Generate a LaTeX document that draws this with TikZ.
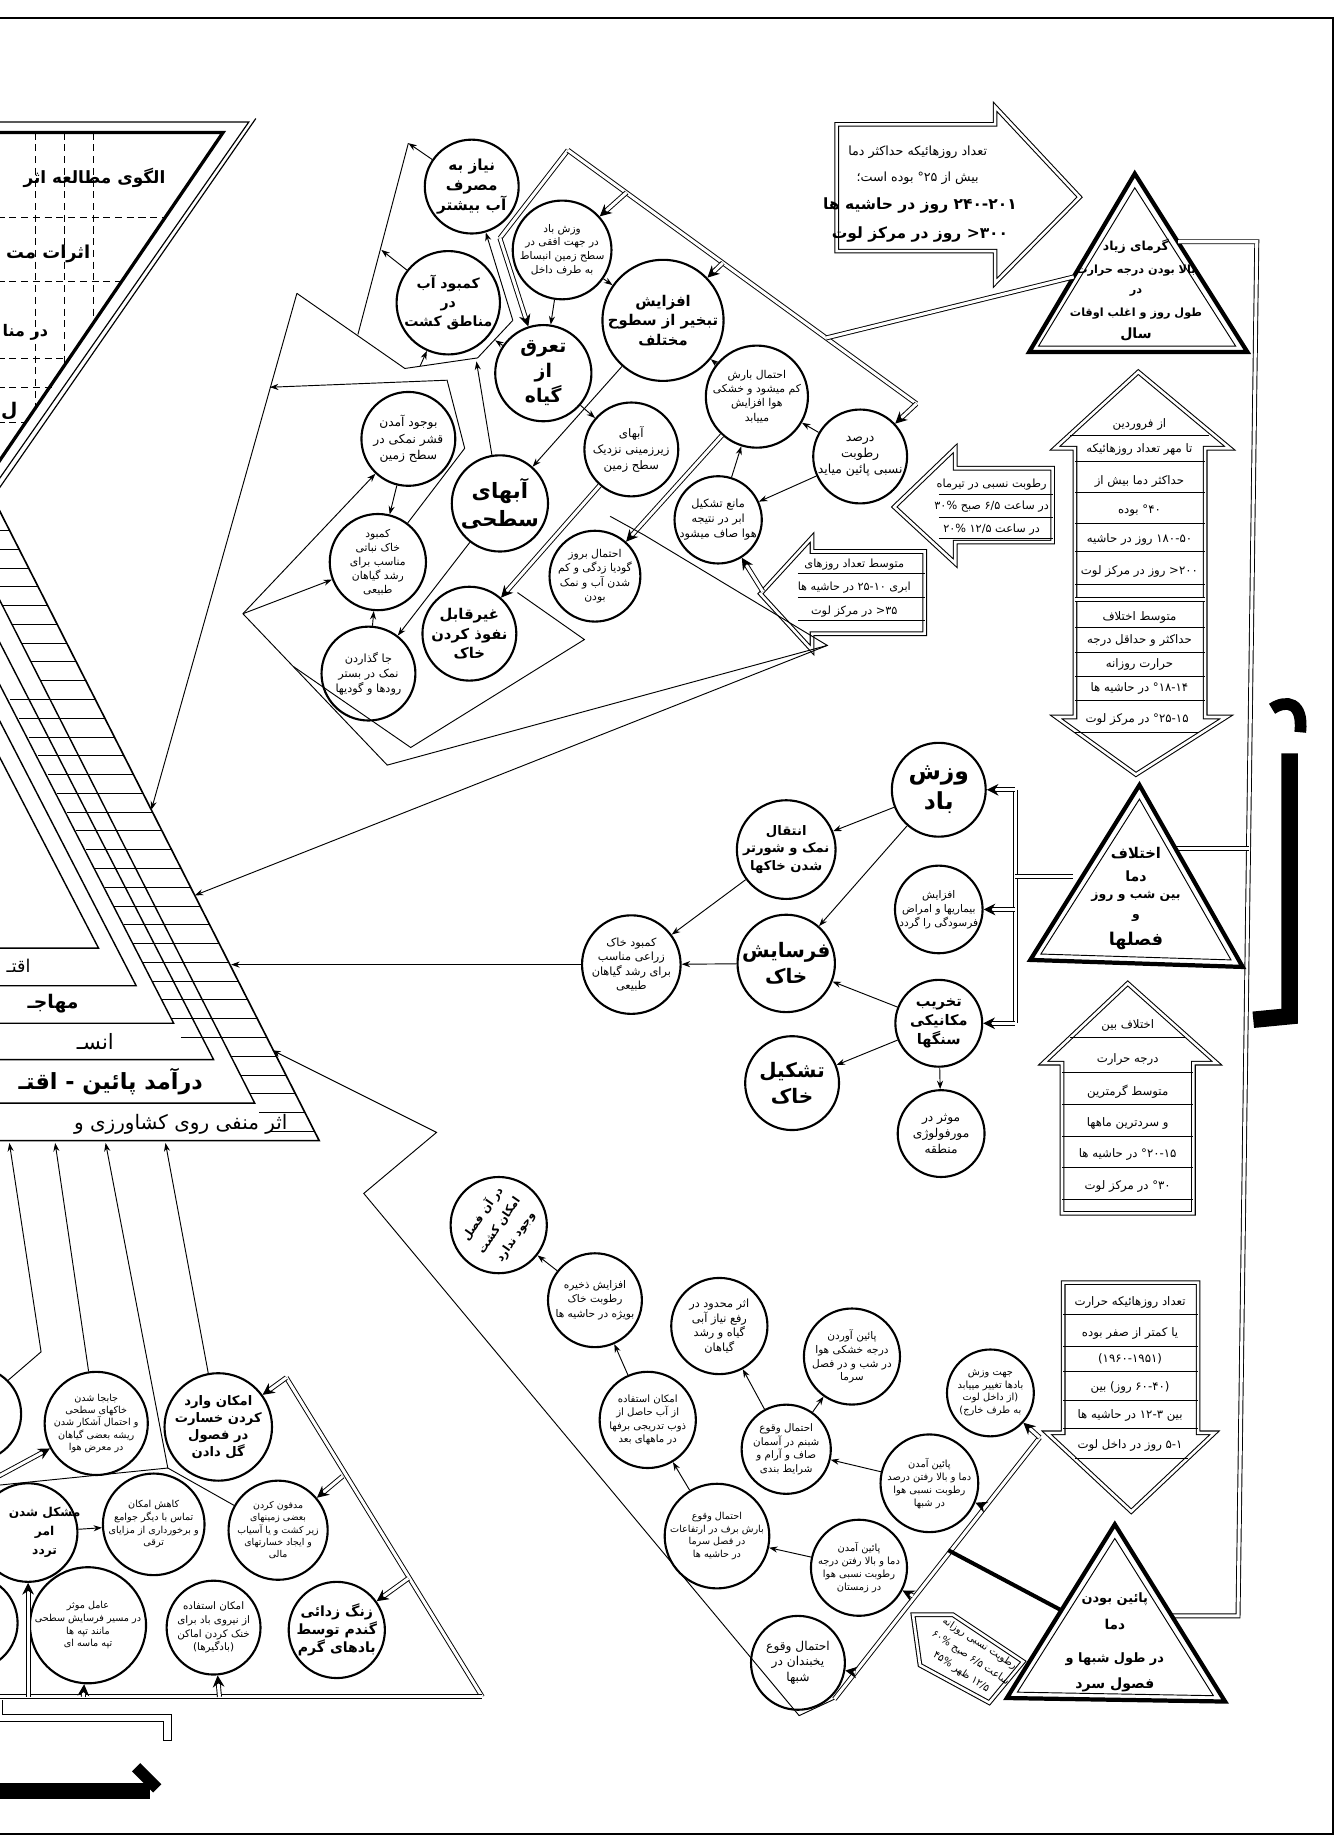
\documentclass[tikz,border=0pt]{standalone}
\usepackage{fontspec}
\newfontfamily\arabicfont[Script=Arabic]{DejaVu Sans}
\TeXXeTstate=1
\usetikzlibrary{arrows.meta,calc}
\newcommand{\fa}[1]{\beginR #1\endR}
\newcommand{\LN}[1]{\beginL #1\endL{}}
\tikzset{
  circ/.style={circle,draw,line width=0.9pt,inner sep=0pt,align=center,minimum size=40pt,font=\arabicfont\fontsize{4.8}{6.2}\selectfont},
  fs/.style 2 args={font=\arabicfont\fontsize{#1}{#2}\selectfont},
  fb/.style 2 args={font=\arabicfont\bfseries\fontsize{#1}{#2}\selectfont},
  arr/.style={-{Stealth[length=3.6pt,width=2.6pt]},line width=0.4pt},
  dl/.style={double,double distance=1.3pt,line width=0.4pt},
  darr/.style={double,double distance=1.3pt,line width=0.4pt,-{Stealth[length=5pt,width=5pt]}},
  shp/.style={double,double distance=1.1pt,line width=0.45pt},
  txt/.style={align=center,inner sep=0pt,font=\arabicfont\fontsize{5}{6}\selectfont},
  hatch/.style={line width=0.35pt},
  heavy/.style={line width=1.7pt},
  grid/.style={dash pattern=on 3pt off 2pt,line width=0.35pt},
}
\begin{document}
\begin{tikzpicture}[x=0.5pt,y=-0.5pt]
\useasboundingbox (0,0) rectangle (1140,1568);
\clip (0,0) rectangle (1140,1568);
% frame
\draw[line width=0.8pt] (-5,15) -- (1136,15) -- (1136,1563) -- (-5,1563);

% ---------- title wedge ----------
\draw[line width=0.5pt] (-2,104) -- (212,104) -- (-2,410);
\draw[line width=0.5pt] (218,101) -- (-2,418);
\draw[line width=1.4pt] (-2,113) -- (190,113) -- (-2,395);
\foreach \y/\x in {185/141,240/104,305/60,330/44,360/23} \draw[grid] (-2,\y) -- (\x,\y);
\foreach \x/\y in {30/350,55/313,80/276} \draw[grid] (\x,113) -- (\x,\y);
\node[anchor=east,fb={7.2}{9}] at (148,152) {\fa{الگوی مطالعه اثر}};
\node[anchor=east,fb={7.6}{10}] at (84,216) {\fa{اثرات مت}};
\node[anchor=east,fb={6.8}{9}] at (48,283) {\fa{در منا}};
\node[anchor=east,fb={8}{10}] at (22,350) {\fa{ل}};

% ---------- big pyramid ----------
\draw[line width=0.7pt] (-2,432) -- (272,972) -- (-2,972);
\draw[line width=0.6pt] (-2,508) -- (217,940) -- (-2,940);
\draw[line width=0.6pt] (-2,544) -- (182,903) -- (-2,903);
\draw[line width=0.6pt] (-2,580) -- (148,872) -- (-2,872);
\draw[line width=0.6pt] (-2,611) -- (116,840) -- (-2,840);
\draw[line width=0.6pt] (-2,642) -- (84,808) -- (-2,808);
\foreach \y in {452,468,...,964} \draw[hatch] ({max(0,(\y-512)*0.507)},\y) -- ({(\y-436)*0.507},\y);
\foreach \y in {596,612,...,892} \draw[hatch] ({max(0,(\y-580)*0.507)},\y) -- ({(\y-512)*0.507},\y);
\node[anchor=east,fs={8.5}{10}] at (252,958) {\fa{اثر منفی روی کشاورزی و}};
\node[anchor=east,fb={9.5}{11}] at (180,922) {\fa{درآمد پائین - اقتـ}};
\node[anchor=east,fs={9}{11}] at (104,888) {\fa{انسـ}};
\node[anchor=east,fb={8}{10}] at (74,855) {\fa{مهاجـ}};
\node[anchor=east,fs={7.5}{9}] at (33,823) {\fa{اقتـ}};

% ---------- top right arrow + triangle ----------
\draw[shp] (713,106) -- (848,106) -- (848,91) -- (920,168) -- (848,241) -- (848,214) -- (713,214) -- cycle;
\node[txt,fs={5.4}{6.4}] at (782,130) {\fa{تعداد روزهائیکه حداکثر دما}};
\node[txt,fs={5.4}{6.4}] at (782,152) {\fa{بیش از \LN{°۲۵} بوده است؛}};
\node[txt,fb={6.6}{8}] at (784,175) {\fa{\LN{۲۴۰-۲۰۱} روز در حاشیه ها}};
\node[txt,fb={6.6}{8}] at (784,200) {\fa{\LN{۳۰۰<} روز در مرکز لوت}};

\draw[line width=1.8pt] (967,148) -- (1063,300) -- (877,300) -- cycle;
\draw[line width=0.4pt] (967,160) -- (1053,295) -- (885,295) -- cycle;
\node[txt,fb={5.3}{6.5}] at (968,210) {\fa{گرمای زیاد}};
\node[txt,fb={4.8}{6}] at (968,231) {\fa{بالا بودن درجه حرارت}};
\node[txt,fb={4.8}{6}] at (968,249) {\fa{در}};
\node[txt,fb={4.8}{6}] at (968,267) {\fa{طول روز و اغلب اوقات}};
\node[txt,fb={6}{7.5}] at (968,285) {\fa{سال}};

% spine
\draw[dl] (1004,206) -- (1071,206) -- (1055,1377) -- (998,1377);
\draw[dl] (1002,723) -- (1064,723);

% up-down arrow
\draw[shp] (970,317) -- (1048,382) -- (1027,382) -- (1027,611) -- (1045,611) -- (968,660) -- (900,611) -- (916,611) -- (916,382) -- (899,382) -- cycle;
\draw[shp] (916,511) -- (1027,511);
\draw[hatch] (912,371) -- (1030,371);
\foreach \y in {393,420,446,470,498,535,556,576,597} \draw[hatch] (916,\y) -- (1027,\y);
\draw[hatch] (915,624) -- (1022,624);
\node[txt,fs={5}{6}] at (971,362) {\fa{از فروردین}};
\node[txt,fs={5}{6}] at (971,383) {\fa{تا مهر تعداد روزهائیکه}};
\node[txt,fs={5}{6}] at (971,410) {\fa{حداکثر دما بیش از}};
\node[txt,fs={5}{6}] at (971,435) {\fa{\LN{°۴۰} بوده}};
\node[txt,fs={5}{6}] at (971,460) {\fa{\LN{۱۸۰-۵۰} روز در حاشیه}};
\node[txt,fs={5}{6}] at (971,487) {\fa{\LN{۲۰۰<} روز در مرکز لوت}};
\node[txt,fs={5}{6}] at (971,526) {\fa{متوسط اختلاف}};
\node[txt,fs={5}{6}] at (971,546) {\fa{حداکثر و حداقل درجه}};
\node[txt,fs={5}{6}] at (971,566) {\fa{حرارت روزانه}};
\node[txt,fs={5}{6}] at (971,587) {\fa{\LN{°۱۸-۱۴} در حاشیه ها}};
\node[txt,fs={5}{6}] at (969,613) {\fa{\LN{°۲۵-۱۵} در مرکز لوت}};

% left arrows
\draw[shp] (897,399) -- (814,399) -- (814,382) -- (762,432) -- (814,480) -- (814,462) -- (897,462) -- cycle;
\foreach \y in {421,441,459} \draw[hatch] (800,\y) -- (897,\y);
\node[txt,fs={4.8}{5.8}] at (845,413) {\fa{رطوبت نسبی در تیرماه}};
\node[txt,fs={4.8}{5.8}] at (845,432) {\fa{در ساعت \LN{۶/۵} صبح \LN{۳۰\%}}};
\node[txt,fs={4.8}{5.8}] at (845,451) {\fa{در ساعت \LN{۱۲/۵} \LN{۲۰\%}}};

\draw[shp] (788,470) -- (692,470) -- (692,458) -- (648,506) -- (692,554) -- (692,540) -- (788,540) -- cycle;
\foreach \y in {489,509,529} \draw[hatch] (680,\y) -- (788,\y);
\node[txt,fs={4.8}{5.8}] at (728,481) {\fa{متوسط تعداد روزهای}};
\node[txt,fs={4.8}{5.8}] at (728,501) {\fa{ابری \LN{۲۵-۱۰} در حاشیه ها}};
\node[txt,fs={4.8}{5.8}] at (728,521) {\fa{\LN{۳۵<} در مرکز لوت}};

% triangle 2
\draw[line width=1.8pt] (971,669) -- (1059,824) -- (878,818) -- cycle;
\draw[line width=0.4pt] (971,681) -- (1049,818) -- (887,813) -- cycle;
\node[txt,fb={6.3}{8}] at (968,727) {\fa{اختلاف}};
\node[txt,fb={6}{7.5}] at (968,747) {\fa{دما}};
\node[txt,fb={5.3}{6.5}] at (968,764) {\fa{بین شب و روز}};
\node[txt,fb={5.3}{6.5}] at (968,782) {\fa{و}};
\node[txt,fb={7.5}{9}] at (968,802) {\fa{فصلها}};

% up arrow
\draw[shp] (961,838) -- (1037,906) -- (1017,906) -- (1017,1034) -- (905,1034) -- (905,906) -- (889,906) -- cycle;
\draw[hatch] (912,884) -- (1010,884);
\foreach \y in {914,941,968,995,1022} \draw[hatch] (905,\y) -- (1017,\y);
\node[txt,fs={5}{6}] at (961,874) {\fa{اختلاف بین}};
\node[txt,fs={5}{6}] at (961,903) {\fa{درجه حرارت}};
\node[txt,fs={5}{6}] at (961,930) {\fa{متوسط گرمترین}};
\node[txt,fs={5}{6}] at (961,957) {\fa{و سردترین ماهها}};
\node[txt,fs={5}{6}] at (961,984) {\fa{\LN{°۲۰-۱۵} در حاشیه ها}};
\node[txt,fs={5}{6}] at (961,1011) {\fa{\LN{°۳۰} در مرکز لوت}};

% down arrow
\draw[shp] (906,1093) -- (1021,1093) -- (1021,1221) -- (1035,1221) -- (964,1288) -- (892,1221) -- (906,1221) -- cycle;
\foreach \y in {1120,1147,1169,1193,1217} \draw[hatch] (906,\y) -- (1021,\y);
\draw[hatch] (916,1243) -- (1012,1243);
\node[txt,fs={5}{6}] at (963,1110) {\fa{تعداد روزهائیکه حرارت}};
\node[txt,fs={5}{6}] at (963,1136) {\fa{یا کمتر از صفر بوده}};
\node[txt,fs={5}{6}] at (963,1158) {\fa{(\LN{۱۹۶۰-۱۹۵۱})}};
\node[txt,fs={5}{6}] at (963,1182) {\fa{(\LN{۶۰-۴۰} روز) بین}};
\node[txt,fs={5}{6}] at (963,1206) {\fa{بین \LN{۱۲-۳} در حاشیه ها}};
\node[txt,fs={5}{6}] at (963,1232) {\fa{\LN{۵-۱} روز در داخل لوت}};

% triangle 3
\draw[line width=1.8pt] (950,1299) -- (1044,1450) -- (858,1447) -- cycle;
\draw[line width=0.4pt] (950,1311) -- (1034,1445) -- (867,1442) -- cycle;
\node[txt,fb={5.5}{7}] at (950,1363) {\fa{پائین بودن}};
\node[txt,fb={5.8}{7}] at (950,1384) {\fa{دما}};
\node[txt,fb={5.5}{7}] at (950,1414) {\fa{در طول شبها و}};
\node[txt,fb={6}{7.5}] at (950,1436) {\fa{فصول سرد}};

% tilted arrow
\draw[shp] (778,1376) -- (812,1376) -- (872,1416) -- (843,1451) -- (784,1419) -- cycle;
\node[txt,fs={4.3}{7.2},rotate=-33] at (827,1413) {\fa{رطوبت نسبی روزانه}\\\fa{ساعت \LN{۶/۵} صبح \LN{۶۰\%}}\\\fa{\LN{۱۲/۵} ظهر \LN{۴۵\%}}};

% big letters
\draw[line width=7pt] (1099,642) -- (1099,866) -- (1068,869);
\draw[line width=5pt] (1084,604) .. controls (1096,596) and (1111,598) .. (1108,624);
\draw[line width=7pt] (-5,1526) -- (128,1526);
\draw[line width=5pt] (116,1506) -- (134,1524);
\draw[line width=0.5pt] (2,1449) -- (2,1461) -- (146,1461) -- (146,1483) -- (139,1483) -- (139,1467) -- (-5,1467);

% ---------- upper cluster circles ----------
\node[circ,fb={6.5}{8.5},minimum size=40pt] (nz) at (402,159) {\fa{نیاز به}\\\fa{مصرف}\\\fa{آب بیشتر}};
\node[circ,fb={6}{8},minimum size=41pt] (kma) at (382,258) {\fa{کمبود آب}\\\fa{در}\\\fa{مناطق کشت}};
\node[circ,fs={4.5}{5.8},minimum size=40pt] (vb1) at (479,213) {\fa{وزش باد}\\\fa{در جهت افقی در}\\\fa{سطح زمین انبساط}\\\fa{به طرف داخل}};
\node[circ,fb={8}{10.5},minimum size=41pt] (tq) at (463,318) {\fa{تعرق}\\\fa{از}\\\fa{گیاه}};
\node[circ,fb={6.3}{8.3},minimum size=42pt] (ft) at (565,273) {\fa{افزایش}\\\fa{تبخیر از سطوح}\\\fa{مختلف}};
\node[circ,fs={4.6}{6},minimum size=38pt] (eb) at (645,338) {\fa{احتمال بارش}\\\fa{کم میشود و خشکی}\\\fa{هوا افزایش}\\\fa{مییابد}};
\node[circ,fs={5.3}{7},minimum size=40pt] (ds) at (733,389) {\fa{درصد}\\\fa{رطوبت}\\\fa{نسبی پائین میاید}};
\node[circ,fs={4.8}{6.4},minimum size=37pt] (mt) at (612,443) {\fa{مانع تشکیل}\\\fa{ابر در نتیجه}\\\fa{هوا صاف میشود}};
\node[circ,fs={5}{6.8},minimum size=40pt] (az) at (538,383) {\fa{آبهای}\\\fa{زیرزمینی نزدیک}\\\fa{سطح زمین}};
\node[circ,fb={9}{12},minimum size=41pt] (as) at (426,429) {\fa{آبهای}\\\fa{سطحی}};
\node[circ,fs={5.2}{7},minimum size=40pt] (bq) at (348,374) {\fa{بوجود آمدن}\\\fa{قشر نمکی در}\\\fa{سطح زمین}};
\node[circ,fs={4.6}{5.9},minimum size=41pt] (kk) at (322,479) {\fa{کمبود}\\\fa{خاک نباتی}\\\fa{مناسب برای}\\\fa{رشد گیاهان}\\\fa{طبیعی}};
\node[circ,fs={4.8}{6.4},minimum size=40pt] (jg) at (314,574) {\fa{جا گذاردن}\\\fa{نمک در بستر}\\\fa{رودها و گودیها}};
\node[circ,fb={6.3}{8.3},minimum size=40pt] (gn) at (400,540) {\fa{غیرقابل}\\\fa{نفوذ کردن}\\\fa{خاک}};
\node[circ,fs={4.6}{6},minimum size=38pt] (eg) at (507,491) {\fa{احتمال بروز}\\\fa{گودیا زدگی و کم}\\\fa{شدن آب و نمک}\\\fa{بودن}};

% ---------- middle cluster ----------
\node[circ,fb={10}{13},minimum size=40pt] (vb2) at (800,673) {\fa{وزش}\\\fa{باد}};
\node[circ,fb={5.6}{7.4},minimum size=40pt] (en) at (670,724) {\fa{انتقال}\\\fa{نمک و شورتر}\\\fa{شدن خاکها}};
\node[circ,fs={4.5}{6},minimum size=37pt] (ab) at (800,775) {\fa{افزایش}\\\fa{بیماریها و امراض}\\\fa{فرسودگی را گردد}};
\node[circ,fs={4.8}{6.2},minimum size=42pt] (kz) at (538,822) {\fa{کمبود خاک}\\\fa{زراعی مناسب}\\\fa{برای رشد گیاهان}\\\fa{طبیعی}};
\node[circ,fb={8.5}{11},minimum size=40pt] (fk) at (670,821) {\fa{فرسایش}\\\fa{خاک}};
\node[circ,fb={6.2}{8},minimum size=37pt] (tm) at (800,872) {\fa{تخریب}\\\fa{مکانیکی}\\\fa{سنگها}};
\node[circ,fb={8.5}{11},minimum size=40pt] (tk) at (675,923) {\fa{تشکیل}\\\fa{خاک}};
\node[circ,fs={5.2}{6.8},minimum size=37pt] (mm) at (802,966) {\fa{موثر در}\\\fa{مورفولوژی}\\\fa{منطقه}};

% ---------- bottom right cluster ----------
\node[circ,minimum size=41pt] (ek) at (425,1044) {};
\node[txt,fb={4.8}{8.5},rotate=55] at (425,1044) {\fa{در آن فصل}\\\fa{امکان کشت}\\\fa{وجود ندارد}};
\node[circ,fs={4.5}{6},minimum size=40pt] (az2) at (507,1108) {\fa{افزایش ذخیره}\\\fa{رطوبت خاک}\\\fa{بویژه در حاشیه ها}};
\node[circ,fs={4.8}{6.2},minimum size=41pt] (am) at (613,1130) {\fa{اثر محدود در}\\\fa{رفع نیاز آبی}\\\fa{گیاه و رشد}\\\fa{گیاهان}};
\node[circ,fs={4.5}{5.9},minimum size=40pt] (pd) at (726,1156) {\fa{پائین آوردن}\\\fa{درجه خشکی هوا}\\\fa{در شب و در فصل}\\\fa{سرما}};
\node[circ,fs={4.3}{5.6},minimum size=41pt] (ea) at (552,1210) {\fa{امکان استفاده}\\\fa{از آب حاصل از}\\\fa{ذوب تدریجی برفها}\\\fa{در ماههای بعد}};
\node[circ,fs={4.4}{5.8},minimum size=38pt] (es) at (670,1235) {\fa{احتمال وقوع}\\\fa{شبنم در آسمان}\\\fa{صاف و آرام و}\\\fa{شرایط بندی}};
\node[circ,fs={4.1}{5.4},minimum size=41pt] (eb2) at (611,1309) {\fa{احتمال وقوع}\\\fa{بارش برف در ارتفاعات}\\\fa{در فصل سرما}\\\fa{در حاشیه ها}};
\node[circ,fs={4.2}{5.5},minimum size=40pt] (pz) at (732,1336) {\fa{پائین آمدن}\\\fa{دما و بالا رفتن درجه}\\\fa{رطوبت نسبی هوا}\\\fa{در زمستان}};
\node[circ,fs={4.2}{5.5},minimum size=40pt] (ps) at (792,1264) {\fa{پائین آمدن}\\\fa{دما و بالا رفتن درصد}\\\fa{رطوبت نسبی هوا}\\\fa{در شبها}};
\node[circ,fs={4.2}{5.4},minimum size=37pt] (jv) at (844,1187) {\fa{جهت وزش}\\\fa{بادها تغییر مییابد}\\\fa{(از داخل لوت}\\\fa{به طرف خارج)}};
\node[circ,fs={5.2}{6.8},minimum size=40pt] (ey) at (680,1417) {\fa{احتمال وقوع}\\\fa{یخبندان در}\\\fa{شبها}};

% ---------- bottom left cluster ----------
\node[circ,minimum size=40pt] (pc1) at (-22,1205) {};
\node[circ,minimum size=40pt] (pc2) at (-25,1383) {};
\node[circ,fs={4.1}{5.3},minimum size=40pt] (jj) at (82,1213) {\fa{جابجا شدن}\\\fa{خاکهای سطحی}\\\fa{و احتمال آشکار شدن}\\\fa{ریشه بعضی گیاهان}\\\fa{در معرض هوا}};
\node[circ,fb={5.6}{7.2},minimum size=41pt] (ev) at (186,1216) {\fa{امکان وارد}\\\fa{کردن خسارت}\\\fa{در فصول}\\\fa{گل دادن}};
\node[circ,minimum size=42pt] (ms) at (24,1306) {};
\node[txt,fb={5.2}{8}] at (38,1306) {\fa{مشکل شدن}\\\fa{امر}\\\fa{تردد}};
\node[circ,fs={4.1}{5.4},minimum size=40pt] (ka) at (131,1299) {\fa{کاهش امکان}\\\fa{تماس با دیگر جوامع}\\\fa{و برخورداری از مزایای}\\\fa{ترقی}};
\node[circ,fs={4}{5.2},minimum size=40pt] (md) at (237,1304) {\fa{مدفون کردن}\\\fa{بعضی زمینهای}\\\fa{زیر کشت و یا آسیاب}\\\fa{و ایجاد خسارتهای}\\\fa{مالی}};
\node[circ,fs={4.1}{5.4},minimum size=40pt] (am2) at (75,1385) {\fa{عامل موثر}\\\fa{در مسیر فرسایش سطحی}\\\fa{مانند تپه ها}\\\fa{تپه ماسه ای}};
\node[circ,fs={4.4}{5.8},minimum size=40pt] (eh) at (182,1387) {\fa{امکان استفاده}\\\fa{از نیروی باد برای}\\\fa{خنک کردن اماکن}\\\fa{(بادگیرها)}};
\node[circ,fb={6}{7.8},minimum size=41pt] (zz) at (287,1389) {\fa{زنگ زدائی}\\\fa{گندم توسط}\\\fa{بادهای گرم}};

% ---------- connectors: upper cluster ----------
\draw[dl] (484,128) -- (426,203);
\draw[darr] (426,203) -- (tq);
\draw[dl] (484,128) -- (781,344);
\draw[darr] (781,344) -- (ds);
\draw[darr] (534,164) -- (vb1);
\draw[darr] (616,224) -- (ft);
\draw[dl] (915,236) -- (704,288);
\draw[arr] (vb1) -- (tq);
\draw[arr] (vb1) -- (ft);
\draw[arr] (ft) -- (as);
\draw[arr] (eb) -- (ft);
\draw[arr] (ds) -- (eb);
\draw[arr] (mt) -- (eb);
\draw[arr] (ds) -- (mt);
\draw[arr] (tq) -- (az);
\draw[darr] (eb) -- (eg);
\draw[darr] (az) -- (gn);
\draw[arr] (as) -- (jg);
\draw[arr] (bq) -- (kk);
\draw[arr] (jg) -- (kk);
\draw[darr] (650,504) -- (mt);
% P1 group
\draw (253,250) -- (345,314) -- (407,305) -- (437,273);
\draw[arr] (437,273) -- (nz);
\draw[arr] (tq) -- (422,290);
\draw[arr] (as) -- (406,308);
\draw[arr] (358,312) -- (kma);
\draw[arr] (nz) -- (348,122);
\draw (348,122) -- (305,285);
\draw[arr] (kma) -- (325,213);
\draw[arr] (253,250) -- (129,690);
% P2 group
\draw[arr] (kk) -- (396,382) -- (381,324) -- (230,330);
\draw[arr] (207,523) -- (bq);
\draw[arr] (207,523) -- (kk);
\draw (520,440) -- (549,456) -- (705,550) -- (330,652) -- (207,523);
\draw (441,505) -- (498,545) -- (350,637) -- (250,568);
\draw[arr] (705,550) -- (166,763);

% ---------- connectors: middle ----------
\draw[arr] (vb2) -- (en);
\draw[arr] (vb2) -- (fk);
\draw[arr] (en) -- (kz);
\draw[arr] (fk) -- (kz);
\draw[arr] (tm) -- (fk);
\draw[arr] (tm) -- (tk);
\draw[arr] (tm) -- (mm);
\draw[arr] (kz) -- (197,822);
\draw[dl] (865,673) -- (865,872);
\draw[dl] (914,747) -- (865,747);
\draw[darr] (865,673) -- (vb2);
\draw[darr] (865,775) -- (ab);
\draw[darr] (865,872) -- (tm);

% ---------- connectors: bottom right ----------
\draw[arr] (az2) -- (ek);
\draw[arr] (ea) -- (az2);
\draw[arr] (eb2) -- (ea);
\draw[arr] (es) -- (am);
\draw[arr] (es) -- (pd);
\draw[arr] (ps) -- (es);
\draw[arr] (pz) -- (eb2);
\draw[dl] (711,1448) -- (886,1225);
\draw[darr] (886,1225) -- (jv);
\draw[darr] (837,1283) -- (ps);
\draw[darr] (778,1360) -- (pz);
\draw[darr] (729,1425) -- (ey);
\draw[heavy] (808,1321) -- (904,1372);
\draw[arr] (711,1448) -- (681,1462) -- (310,1017) -- (372,965) -- (232,895);

% ---------- connectors: bottom left ----------
\draw[dl] (244,1174) -- (411,1446);
\draw[dl] (-5,1446) -- (411,1446);
\draw[darr] (244,1174) -- (ev);
\draw[darr] (292,1258) -- (md);
\draw[darr] (348,1345) -- (zz);
\draw[darr] (24,1446) -- (ms);
\draw[darr] (71,1446) -- (am2);
\draw[darr] (187,1446) -- (eh);
\draw[arr] (ms) -- (ka);
\draw (-5,1266) -- (143,1251);
\draw (md) -- (143,1251);
\draw[arr] (143,1251) -- (90,974);
\draw[arr] (jj) -- (47,974);
\draw[arr] (ev) -- (141,974);
\draw[arr] (6,1177) -- (35,1152) -- (8,974);
\draw[darr] (-5,1260) -- (jj);
\end{tikzpicture}
\end{document}
